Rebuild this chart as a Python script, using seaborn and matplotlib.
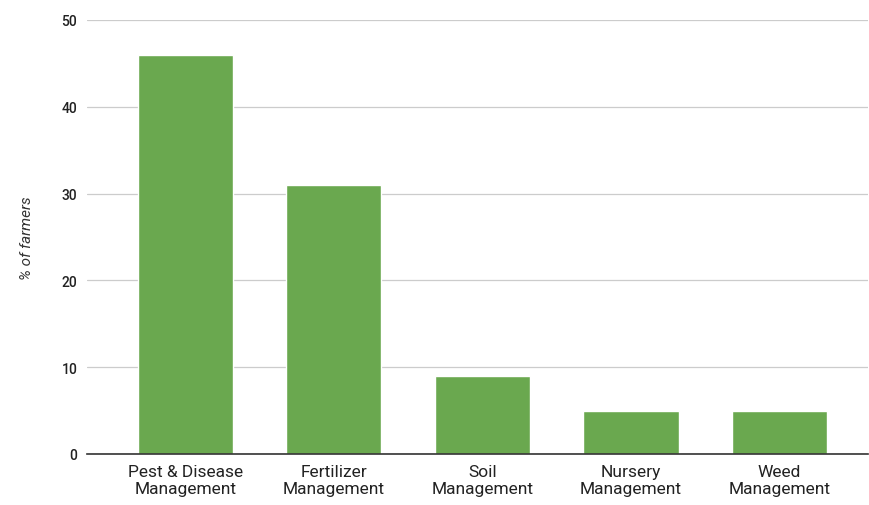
import matplotlib
matplotlib.use("Agg")
import matplotlib.pyplot as plt
import seaborn as sns
import pandas as pd

categories = ["Pest & Disease\nManagement", "Fertilizer\nManagement", "Soil\nManagement",
              "Nursery\nManagement", "Weed\nManagement"]
values = [46, 31, 9, 5, 5]
yticks = [0, 10, 20, 30, 40, 50]

sns.set_theme(style="white")
plt.rcParams["font.family"] = ["Roboto", "DejaVu Sans"]

df = pd.DataFrame({"practice": categories, "pct": values})

fig = plt.figure(figsize=(8.69, 5.06), dpi=100)
ax = fig.add_axes([0.1001, 0.1008, 0.8988, 0.8577])

sns.barplot(data=df, x="practice", y="pct", color="#6aa84f", saturation=1,
            width=0.64, ax=ax, zorder=3)

ax.set_xlim(-0.663, 4.596)
ax.set_ylim(0, 50)
ax.set_yticks(yticks)
ax.set_yticklabels([str(t) for t in yticks], fontsize=10, color="#222222",
                   fontweight="medium")
ax.grid(axis="y", color="#cccccc", linewidth=0.9, zorder=0)
ax.grid(axis="x", visible=False)
for s in ["top", "right", "left"]:
    ax.spines[s].set_visible(False)
ax.spines["bottom"].set_color("#333333")
ax.spines["bottom"].set_linewidth(1.2)
ax.spines["bottom"].set_zorder(4)
ax.tick_params(axis="y", length=0, pad=7)
ax.tick_params(axis="x", length=0, pad=7)
for lab in ax.get_xticklabels():
    lab.set_fontsize(12.5)
    lab.set_color("#222222")
    lab.set_linespacing(1.2)
ax.set_xlabel("")
ax.set_ylabel("% of farmers", fontsize=11, style="italic", color="#333333", labelpad=20)

fig.savefig("out.png", dpi=100)
